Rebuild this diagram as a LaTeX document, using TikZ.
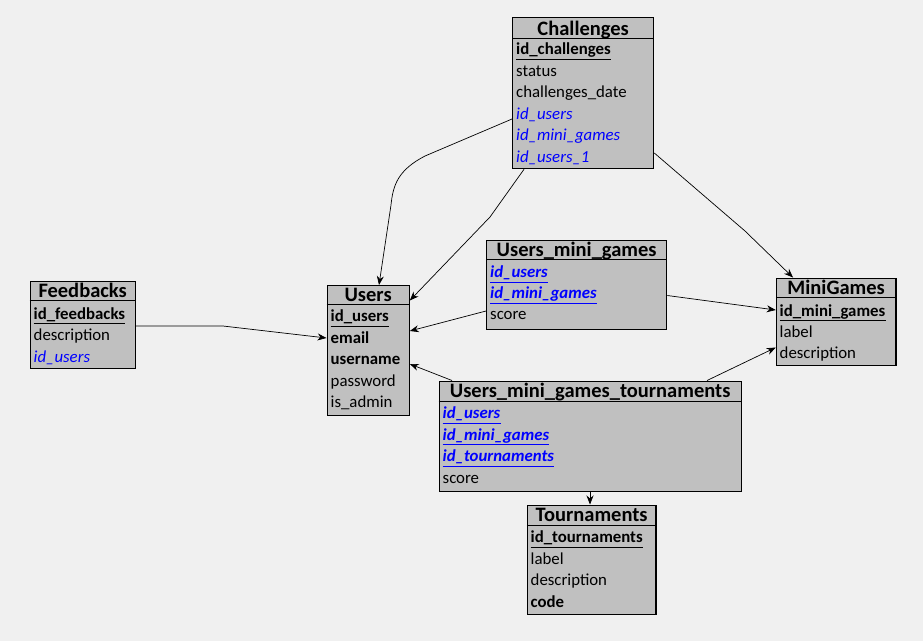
\documentclass[tikz,border=0pt]{standalone}
\usepackage{fontspec}
\setmainfont{Carlito}
\usetikzlibrary{arrows.meta,calc}
\definecolor{bgc}{HTML}{F0F0F0}
\definecolor{boxfill}{HTML}{C0C0C0}
\definecolor{fkblue}{HTML}{0000FF}
\newcommand\ulin[2]{\draw[#2,line width=1pt] ($(#1.base west)+(0,4.5)$) -- ($(#1.base east)+(0,4.5)$);}
\begin{document}
\begin{tikzpicture}[x=1pt,y=-1pt,
  tbl/.style={draw=black,line width=1.3pt,fill=boxfill,anchor=north west,inner sep=0pt},
  hdr/.style={draw=black,line width=1pt},
  ttl/.style={font=\bfseries\fontsize{20.5}{22}\selectfont,anchor=base,inner sep=0pt},
  fld/.style={font=\fontsize{16.8}{18}\selectfont,anchor=base west,inner sep=0pt,text=black,yshift=-1.2pt},
  pk/.style={fld,font=\bfseries\fontsize{16.8}{18}\selectfont},
  fk/.style={fld,font=\itshape\fontsize{16.8}{18}\selectfont,text=fkblue},
  pfk/.style={fld,font=\bfseries\itshape\fontsize{16.8}{18}\selectfont,text=fkblue},
  con/.style={draw=black,line width=0.7pt,-{Stealth[length=9pt,width=7pt]}}]
\fill[bgc] (0,0) rectangle (923,641);
\useasboundingbox (0,0) rectangle (923,641);

% Challenges
\node[tbl,minimum width=141pt,minimum height=151pt] (chal) at (512,17) {};
\draw[hdr] (chal.west |- 0,38.5) -- (chal.east |- 0,38.5);
\node[ttl] (chal-t) at (chal.north |- 0,35) {Challenges};
\node[pk] (chal-1) at (516,53.5) {id\_challenges}; \ulin{chal-1}{black}
\node[fld] (chal-2) at (516,75) {status};
\node[fld] (chal-3) at (516,96.5) {challenges\_date};
\node[fk] (chal-4) at (516,118) {id\_users};
\node[fk] (chal-5) at (516,139.5) {id\_mini\_games};
\node[fk] (chal-6) at (516,161) {id\_users\_1};

% Users
\node[tbl,minimum width=82pt,minimum height=130pt] (users) at (326.5,285) {};
\draw[hdr] (users.west |- 0,304.5) -- (users.east |- 0,304.5);
\node[ttl] (users-t) at (users.north |- 0,301.5) {Users};
\node[pk] (users-1) at (330.5,320.5) {id\_users}; \ulin{users-1}{black}
\node[pk] (users-2) at (330.5,342) {email};
\node[pk] (users-3) at (330.5,363.5) {username};
\node[fld] (users-4) at (330.5,385) {password};
\node[fld] (users-5) at (330.5,406.5) {is\_admin};

% Feedbacks
\node[tbl,minimum width=105pt,minimum height=87pt] (feed) at (29.5,281) {};
\draw[hdr] (feed.west |- 0,300.5) -- (feed.east |- 0,300.5);
\node[ttl] (feed-t) at (feed.north |- 0,297.5) {Feedbacks};
\node[pk] (feed-1) at (33.5,318) {id\_feedbacks}; \ulin{feed-1}{black}
\node[fld] (feed-2) at (33.5,339.5) {description};
\node[fk] (feed-3) at (33.5,361) {id\_users};

% Users_mini_games
\node[tbl,minimum width=180pt,minimum height=89pt] (umg) at (486,239.5) {};
\draw[hdr] (umg.west |- 0,259) -- (umg.east |- 0,259);
\node[ttl] (umg-t) at (umg.north |- 0,256.5) {Users\_mini\_games};
\node[pfk] (umg-1) at (490,276.5) {id\_users}; \ulin{umg-1}{fkblue}
\node[pfk] (umg-2) at (490,297.5) {id\_mini\_games}; \ulin{umg-2}{fkblue}
\node[fld] (umg-3) at (490,318.5) {score};

% MiniGames
\node[tbl,minimum width=119.5pt,minimum height=87.5pt] (mini) at (775.75,277.5) {};
\draw[hdr] (mini.west |- 0,297.5) -- (mini.east |- 0,297.5);
\node[ttl] (mini-t) at (mini.north |- 0,294.5) {MiniGames};
\node[pk] (mini-1) at (779.5,315) {id\_mini\_games}; \ulin{mini-1}{black}
\node[fld] (mini-2) at (779.5,336) {label};
\node[fld] (mini-3) at (779.5,357) {description};

% Users_mini_games_tournaments
\node[tbl,minimum width=302pt,minimum height=110.5pt] (umgt) at (438.5,380.5) {};
\draw[hdr] (umgt.west |- 0,401) -- (umgt.east |- 0,401);
\node[ttl] (umgt-t) at (umgt.north |- 0,397.5) {Users\_mini\_games\_tournaments};
\node[pfk] (umgt-1) at (442.5,417.5) {id\_users}; \ulin{umgt-1}{fkblue}
\node[pfk] (umgt-2) at (442.5,439) {id\_mini\_games}; \ulin{umgt-2}{fkblue}
\node[pfk] (umgt-3) at (442.5,460.5) {id\_tournaments}; \ulin{umgt-3}{fkblue}
\node[fld] (umgt-4) at (442.5,482) {score};

% Tournaments
\node[tbl,minimum width=128.5pt,minimum height=109.5pt] (tour) at (526.75,504.5) {};
\draw[hdr] (tour.west |- 0,525) -- (tour.east |- 0,525);
\node[ttl] (tour-t) at (tour.north |- 0,521.5) {Tournaments};
\node[pk] (tour-1) at (530.5,541.5) {id\_tournaments}; \ulin{tour-1}{black}
\node[fld] (tour-2) at (530.5,563) {label};
\node[fld] (tour-3) at (530.5,584.5) {description};
\node[pk] (tour-4) at (530.5,606) {code};

% Connectors
\coordinate (c1a) at (425,156);
\coordinate (c1b) at (391,205);
\draw[con] (chal.west |- 0,119) -- (c1a) .. controls (398,170) and (393,185) .. (c1b) -- (users.north -| 379,0);
\coordinate (c2a) at (490,217);
\draw[con] (chal.south -| 524,0) -- (c2a) -- (users.east |- 0,300.5);
\coordinate (c3a) at (745,231);
\draw[con] (chal.east |- 0,153) -- (c3a) -- (mini.north -| 793,0);
\coordinate (c4a) at (223,326);
\draw[con] (feed.east |- 0,326) -- (c4a) -- (users.west |- 0,338);
\draw[con] (umg.west |- 0,311) -- (users.east |- 0,331);
\draw[con] (umg.east |- 0,295.5) -- (mini.west |- 0,310);
\draw[con] (umgt.north -| 707,0) -- (mini.west |- 0,347.5);
\draw[con] (umgt.north -| 452,0) -- (users.east |- 0,364);
\draw[con] (umgt.south -| 590,0) -- (tour.north -| 590,0);
\end{tikzpicture}
\end{document}
